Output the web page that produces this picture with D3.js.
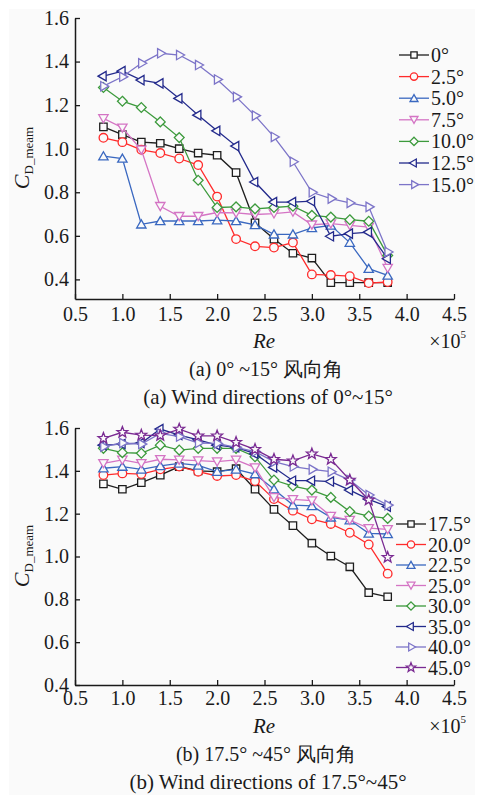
<!DOCTYPE html>
<html>
<head>
<meta charset="utf-8">
<script src="https://cdn.jsdelivr.net/npm/d3@7"></script>
<style>
  html, body { margin: 0; padding: 0; background: #ffffff; }
  svg { display: block; }
</style>
</head>
<body>
<svg id="chart" width="477" height="795"></svg>
<script>
// Reynolds numbers (×10^5) at which the drag coefficient was measured
const re = [0.8, 1.0, 1.2, 1.4, 1.6, 1.8, 2.0, 2.2, 2.4, 2.6, 2.8, 3.0, 3.2, 3.4, 3.6, 3.8];
const xTicks = [0.5, 1.0, 1.5, 2.0, 2.5, 3.0, 3.5, 4.0, 4.5];
const yTicks = [0.4, 0.6, 0.8, 1.0, 1.2, 1.4, 1.6];

// (a) wind directions 0°–15°
const labelsA = ["0°", "2.5°", "5.0°", "7.5°", "10.0°", "12.5°", "15.0°"];
const cd0   = [1.100, 1.065, 1.030, 1.025, 1.000, 0.980, 0.970, 0.890, 0.660, 0.585, 0.520, 0.498, 0.385, 0.385, 0.385, 0.385];
const cd2_5 = [1.050, 1.030, 0.995, 0.980, 0.955, 0.925, 0.780, 0.585, 0.552, 0.546, 0.569, 0.423, 0.420, 0.415, 0.383, 0.388];
const cd5   = [0.966, 0.955, 0.653, 0.668, 0.668, 0.668, 0.672, 0.668, 0.650, 0.607, 0.607, 0.636, 0.648, 0.569, 0.449, 0.418];
const cd7_5 = [1.139, 1.096, 0.995, 0.736, 0.690, 0.690, 0.707, 0.705, 0.698, 0.702, 0.710, 0.651, 0.656, 0.648, 0.640, 0.452];
const cd10  = [1.281, 1.218, 1.189, 1.123, 1.051, 0.855, 0.730, 0.733, 0.724, 0.730, 0.736, 0.694, 0.686, 0.674, 0.667, 0.510];
const cd12_5= [1.333, 1.356, 1.315, 1.300, 1.231, 1.154, 1.082, 1.012, 0.847, 0.755, 0.755, 0.759, 0.598, 0.610, 0.617, 0.495];
const cd15  = [1.287, 1.330, 1.392, 1.438, 1.430, 1.384, 1.318, 1.238, 1.152, 1.054, 0.940, 0.800, 0.771, 0.751, 0.733, 0.526];

// (b) wind directions 17.5°–45°
const labelsB = ["17.5°", "20.0°", "22.5°", "25.0°", "30.0°", "35.0°", "40.0°", "45.0°"];
const cd17_5 = [1.339, 1.314, 1.345, 1.380, 1.420, 1.400, 1.396, 1.410, 1.314, 1.220, 1.144, 1.062, 1.002, 0.952, 0.831, 0.812];
const cd20   = [1.380, 1.388, 1.385, 1.407, 1.420, 1.396, 1.376, 1.380, 1.352, 1.268, 1.214, 1.174, 1.152, 1.111, 1.056, 0.920];
const cd22_5 = [1.412, 1.420, 1.407, 1.423, 1.435, 1.425, 1.396, 1.407, 1.385, 1.314, 1.240, 1.236, 1.183, 1.170, 1.108, 1.105];
const cd25   = [1.435, 1.451, 1.435, 1.454, 1.451, 1.448, 1.443, 1.451, 1.415, 1.276, 1.267, 1.261, 1.189, 1.170, 1.132, 1.127];
const cd30   = [1.505, 1.485, 1.482, 1.520, 1.497, 1.505, 1.505, 1.505, 1.466, 1.357, 1.329, 1.310, 1.276, 1.210, 1.189, 1.178];
const cd35   = [1.520, 1.525, 1.530, 1.595, 1.567, 1.545, 1.520, 1.510, 1.480, 1.416, 1.354, 1.354, 1.350, 1.310, 1.267, 1.233];
const cd40   = [1.513, 1.530, 1.525, 1.575, 1.560, 1.530, 1.528, 1.510, 1.490, 1.443, 1.420, 1.407, 1.396, 1.357, 1.287, 1.240];
const cd45   = [1.552, 1.580, 1.567, 1.565, 1.595, 1.563, 1.563, 1.533, 1.500, 1.454, 1.447, 1.479, 1.454, 1.357, 1.264, 0.996];

const FONT = "'Liberation Serif'";
const INK = "#1a1a1a";
const svg = d3.select("#chart");
const paper = "#fafafa";
svg.append("rect").attr("x", 9).attr("y", 9).attr("width", 466).attr("height", 786).attr("fill", paper);

// marker shapes, centred at the origin
function markerPath(kind, s) {
  const p = d3.path();
  if (kind === "square") {
    const h = 3.7 * s; p.rect(-h, -h, 2 * h, 2 * h);
  } else if (kind === "circle") {
    const r = 4.3 * s; p.moveTo(r, 0); p.arc(0, 0, r, 0, 2 * Math.PI); p.closePath();
  } else if (kind === "diamond") {
    const r = 4.9 * s; p.moveTo(0, -r); p.lineTo(r, 0); p.lineTo(0, r); p.lineTo(-r, 0); p.closePath();
  } else if (kind === "star") {
    const ro = 5.7 * s, ri = 2.4 * s;
    for (let i = 0; i < 10; i++) {
      const a = -Math.PI / 2 + i * Math.PI / 5, r = i % 2 ? ri : ro;
      const px = r * Math.cos(a), py = r * Math.sin(a);
      i ? p.lineTo(px, py) : p.moveTo(px, py);
    }
    p.closePath();
  } else {
    const rot = { up: -90, down: 90, left: 180, right: 0 }[kind];
    const r = 5.4 * s;
    for (let i = 0; i < 3; i++) {
      const a = (rot + i * 120) * Math.PI / 180;
      const px = r * Math.cos(a), py = r * Math.sin(a) + (kind === "up" ? 1 : kind === "down" ? -1 : 0);
      i ? p.lineTo(px, py) : p.moveTo(px, py);
    }
    p.closePath();
  }
  return p.toString();
}

function drawPanel(cfg) {
  const x = d3.scaleLinear().domain([0.5, 4.5]).range([75, 454]);
  const y = d3.scaleLinear().domain(cfg.yDomain).range(cfg.yRange);
  const g = svg.append("g");

  const xAxis = d3.axisBottom(x).tickValues(xTicks).tickFormat(d3.format(".1f"))
    .tickSizeInner(-5).tickSizeOuter(0).tickPadding(cfg.xPad);
  const yAxis = d3.axisLeft(y).tickValues(yTicks).tickFormat(d3.format(".1f"))
    .tickSizeInner(-5).tickSizeOuter(0).tickPadding(6);

  const gx = g.append("g").attr("transform", `translate(0,${cfg.yRange[0]})`).call(xAxis);
  const gy = g.append("g").attr("transform", `translate(75,0)`).call(yAxis);
  [gx, gy].forEach(a => {
    a.attr("font-family", null).attr("font-size", null);
    a.select(".domain").attr("stroke", INK).attr("stroke-width", 1.5);
    a.selectAll(".tick line").attr("stroke", INK).attr("stroke-width", 1.3);
    a.selectAll(".tick text").attr("font-size", 20).attr("fill", INK);
  });

  const line = d3.line().x((d, i) => x(re[i])).y(d => y(d));
  cfg.series.forEach(s => {
    const sg = g.append("g");
    sg.append("path").datum(s.values).attr("d", line)
      .attr("fill", "none").attr("stroke", s.color).attr("stroke-width", 1.3);
    sg.selectAll("path.m").data(s.values).join("path").attr("class", "m")
      .attr("transform", (d, i) => `translate(${x(re[i])},${y(d)})`)
      .attr("d", markerPath(s.shape, 1))
      .attr("fill", paper).attr("stroke", s.color).attr("stroke-width", 1.3);
  });

  // legend
  const lg = g.append("g");
  cfg.series.forEach((s, i) => {
    const ly = cfg.legend.y + i * cfg.legend.dy;
    const lx = cfg.legend.x;
    lg.append("line").attr("x1", lx).attr("x2", lx + 30).attr("y1", ly).attr("y2", ly)
      .attr("stroke", s.color).attr("stroke-width", 1.3);
    lg.append("path").attr("transform", `translate(${lx + 15},${ly})`)
      .attr("d", markerPath(s.shape, 0.85)).attr("fill", paper)
      .attr("stroke", s.color).attr("stroke-width", 1.3);
    lg.append("text").attr("x", lx + 32).attr("y", ly + 7).attr("font-size", 20).text(s.label);
  });

  // y axis title: C with subscript D_meam
  const yt = g.append("text").attr("transform", `translate(29,${cfg.yTitleY}) rotate(-90)`)
    .attr("text-anchor", "middle");
  yt.append("tspan").attr("font-style", "italic").attr("font-size", 22).text("C");
  yt.append("tspan").attr("font-size", 13).attr("dy", 4).text("D_meam");

  // x axis title and scale factor
  const tY = cfg.yRange[0] + cfg.titleOffset;
  g.append("text").attr("x", 264).attr("y", tY).attr("text-anchor", "middle")
    .attr("font-size", 21).attr("font-style", "italic").text("Re");
  const sf = g.append("text").attr("x", 466).attr("y", tY).attr("text-anchor", "end").attr("font-size", 20);
  sf.append("tspan").text("×10");
  sf.append("tspan").attr("font-size", 11).attr("dy", -10).text("5");

  g.append("text").attr("x", 266).attr("y", tY + 28).attr("text-anchor", "middle")
    .attr("font-size", 20).text(cfg.caption1);
  g.append("text").attr("x", 268).attr("y", tY + 56).attr("text-anchor", "middle")
    .attr("font-size", 21).text(cfg.caption2);
}

const colors = {
  black: "#1e1e1e", red: "#ff2b2b", blue: "#3a68c0", pink: "#d474c4",
  green: "#3c9a3c", navy: "#232a8c", lilac: "#7c74c8", purple: "#7a2a92"
};

drawPanel({
  yDomain: [0.31, 1.6], yRange: [299, 18], xPad: 8, titleOffset: 49, yTitleY: 158,
  legend: { x: 399, y: 55, dy: 21.6 },
  caption1: "(a) 0° ~15° 风向角",
  caption2: "(a) Wind directions of 0°~15°",
  series: [
    { label: labelsA[0], values: cd0, color: colors.black, shape: "square" },
    { label: labelsA[1], values: cd2_5, color: colors.red, shape: "circle" },
    { label: labelsA[2], values: cd5, color: colors.blue, shape: "up" },
    { label: labelsA[3], values: cd7_5, color: colors.pink, shape: "down" },
    { label: labelsA[4], values: cd10, color: colors.green, shape: "diamond" },
    { label: labelsA[5], values: cd12_5, color: colors.navy, shape: "left" },
    { label: labelsA[6], values: cd15, color: colors.lilac, shape: "right" }
  ]
});

drawPanel({
  yDomain: [0.4, 1.6], yRange: [685, 428], xPad: 6, titleOffset: 48, yTitleY: 556,
  legend: { x: 396, y: 524, dy: 20.5 },
  caption1: "(b) 17.5° ~45° 风向角",
  caption2: "(b) Wind directions of 17.5°~45°",
  series: [
    { label: labelsB[0], values: cd17_5, color: colors.black, shape: "square" },
    { label: labelsB[1], values: cd20, color: colors.red, shape: "circle" },
    { label: labelsB[2], values: cd22_5, color: colors.blue, shape: "up" },
    { label: labelsB[3], values: cd25, color: colors.pink, shape: "down" },
    { label: labelsB[4], values: cd30, color: colors.green, shape: "diamond" },
    { label: labelsB[5], values: cd35, color: colors.navy, shape: "left" },
    { label: labelsB[6], values: cd40, color: colors.lilac, shape: "right" },
    { label: labelsB[7], values: cd45, color: colors.purple, shape: "star" }
  ]
});

// one serif face for every label
svg.selectAll("text").style("font-family", FONT).attr("fill", INK);
</script>
</body>
</html>
